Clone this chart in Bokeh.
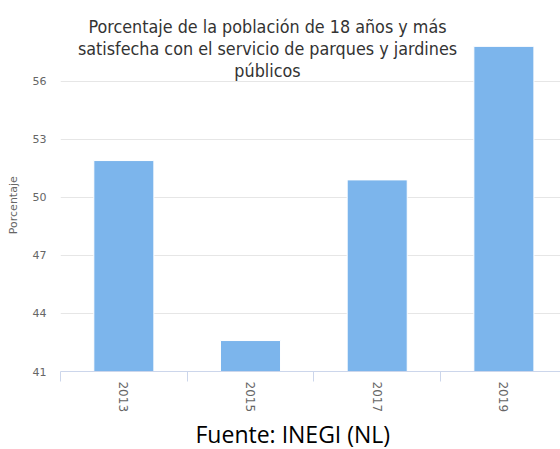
import math
from bokeh.plotting import figure
from bokeh.models import Range1d, FixedTicker, Label, LinearAxis, Title
from bokeh.embed import file_html
from bokeh.resources import INLINE

years = ["2013", "2015", "2017", "2019"]
values = [51.9, 42.6, 50.9, 57.8]
y_ticks = [41, 44, 47, 50, 53, 56]
title_lines = ["Porcentaje de la población de 18 años y más",
               "satisfecha con el servicio de parques y jardines",
               "públicos"]
source_text = "Fuente: INEGI (NL)"
axis_title = "Porcentaje"

x_pos = [i + 0.5 for i in range(len(years))]

p = figure(output_backend="svg", toolbar_location=None,
           width=560, height=449,
           min_border_left=60, min_border_right=0, min_border_top=0, min_border_bottom=67,
           x_range=Range1d(0, 3.947), y_range=Range1d(41, 60.17),
           x_axis_location=None)
p.outline_line_color = None
p.background_fill_color = "white"
p.border_fill_color = "white"

p.vbar(x=x_pos, width=0.474, bottom=41, top=values,
       fill_color="#7cb5ec", line_color="white", line_width=1)

# y axis
yax = p.yaxis[0]
yax.ticker = FixedTicker(ticks=y_ticks)
yax.axis_line_color = None
yax.major_tick_line_color = None
yax.minor_tick_line_color = None
yax.major_tick_out = 0
yax.major_tick_in = 0
yax.major_label_standoff = 14
yax.major_label_text_color = "#666666"
yax.major_label_text_font = "DejaVu Sans"
yax.major_label_text_font_size = "11px"
yax.axis_label = axis_title + "\u00a0" * 11
yax.axis_label_text_color = "#666666"
yax.axis_label_text_font = "DejaVu Sans"
yax.axis_label_text_font_size = "11px"
yax.axis_label_text_font_style = "normal"
yax.axis_label_standoff = 10

p.ygrid.ticker = FixedTicker(ticks=y_ticks)
p.ygrid.grid_line_color = "#e6e6e6"
p.xgrid.grid_line_color = None

# x axis
xax = LinearAxis(ticker=FixedTicker(ticks=x_pos, minor_ticks=[0, 1, 2, 3]))
xax.major_label_overrides = {x: y for x, y in zip(x_pos, years)}
xax.axis_line_color = "#ccd6eb"
xax.major_tick_line_color = None
xax.major_tick_in = 0
xax.major_tick_out = 0
xax.minor_tick_line_color = "#ccd6eb"
xax.minor_tick_in = 0
xax.minor_tick_out = 10
xax.major_label_orientation = -math.pi / 2
xax.major_label_standoff = 0
xax.axis_label_standoff = 0
xax.major_label_text_color = "#666666"
xax.major_label_text_font = "DejaVu Sans"
xax.major_label_text_font_size = "12px"
p.add_layout(xax, "below")

# source note under the axis
p.add_layout(Title(text=source_text, align="left", offset=135, standoff=0,
                   text_font="Open Sans", text_font_size="23px",
                   text_font_style="normal", text_color="#000000"), "below")

# title lines, placed in canvas units
for i, line in enumerate(title_lines):
    p.add_layout(Label(x=267, y=26 + 22 * i, x_units="canvas", y_units="canvas",
                       text=line, text_align="center", text_baseline="alphabetic",
                       text_font="DejaVu Sans Condensed", text_font_size="17.8px",
                       text_color="#333333"))

open("out.html", "w").write(file_html(p, INLINE))
